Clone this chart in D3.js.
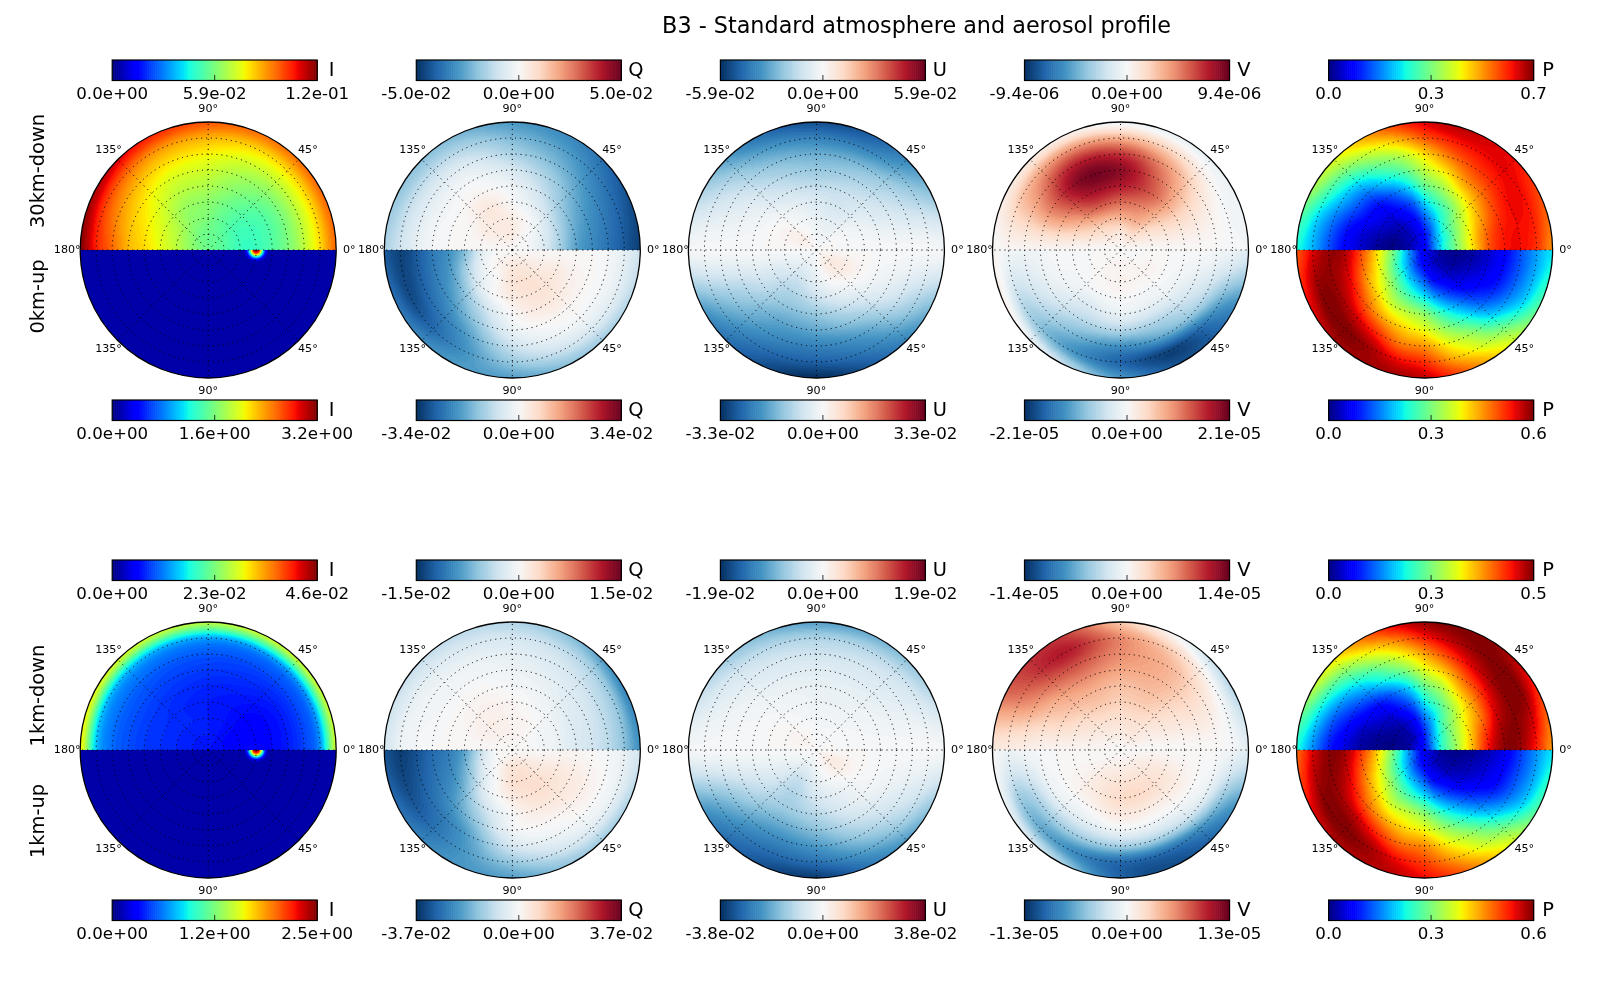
<!DOCTYPE html>
<html>
<head>
<meta charset="utf-8">
<title>B3 - Standard atmosphere and aerosol profile</title>
<script src="https://cdn.jsdelivr.net/npm/d3@7"></script>
<style>
html,body{margin:0;padding:0;background:#fff;}
#wrap{position:relative;width:1600px;height:1000px;overflow:hidden;}
canvas,svg{position:absolute;left:0;top:0;}
text{font-family:"DejaVu Sans",sans-serif;fill:#000;}
</style>
</head>
<body>
<div id="wrap"><canvas id="cv" width="1600" height="1000"></canvas><svg id="sv" width="1600" height="1000"></svg></div>
<script>
// Sampling of every half disc: one row per azimuth, one column per zenith angle.
// I, Q, U, V rows are 30 degrees apart from 0 to 180; P rows are 15 degrees apart.
const zeniths  = [0, 10, 20, 30, 40, 50, 60, 70, 80];

const I_30down = [
 [48,45,42,42,45,50,58,68,80],
 [48,46,43,43,45,50,58,68,80],
 [48,47,46,47,50,54,60,68,79],
 [48,48,50,52,56,60,65,72,82],
 [48,49,52,54,58,62,68,76,88],
 [48,51,56,60,64,68,74,83,96],
 [48,52,58,63,68,72,80,88,100]];
const I_0up = [
 [2,2,2,2,2,2,2,2,3],
 [2,2,2,2,2,2,2,2,3],
 [2,2,2,2,2,2,2,2,3],
 [2,2,2,2,2,2,2,2,3],
 [2,2,2,2,2,2,2,2,3],
 [2,2,2,2,2,2,2,2,3],
 [2,2,2,2,2,2,2,2,3]];
const I_1down = [
 [14,13,12,12,13,15,19,27,60],
 [14,13,12.5,12,13,15,19,27,60],
 [14,14,14,14,15,17,20,28,60],
 [14,15,15,15,16,18,21,29,58],
 [14,15,16,16,17,19,22,30,60],
 [14,15,16,17,18,20,23,31,63],
 [14,15,16,17,18,20,23,32,66]];
const I_1up = [
 [2,2,2,2,2,2,2,2,3],
 [2,2,2,2,2,2,2,2,3],
 [2,2,2,2,2,2,2,2,3],
 [2,2,2,2,2,2,2,2,3],
 [2,2,2,2,2,2,2,2,3],
 [2,2,2,2,2,2,2,2,3],
 [2,2,2,2,2,2,2,2,3]];

const Q_30down = [
 [0,-2,-15,-35,-55,-65,-75,-85,-95],
 [0,-1,-10,-26,-44,-56,-66,-76,-85],
 [0,2,0,-12,-24,-35,-47,-57,-66],
 [0,8,6,0,-6,-17,-32,-45,-58],
 [0,8,10,10,3,-3,-13,-28,-44],
 [0,4,6,2,0,-4,-12,-25,-40],
 [0,0,0,0,0,-2,-9,-20,-32]];
const Q_0up = [
 [0,0,0,0,0,0,-2,-10,-20],
 [0,5,8,10,6,2,-3,-12,-30],
 [0,10,14,14,10,2,-5,-20,-40],
 [0,10,13,8,0,-8,-22,-38,-55],
 [0,6,0,-5,-25,-42,-58,-65,-58],
 [0,2,-5,-25,-50,-65,-78,-88,-72],
 [0,0,-15,-45,-62,-72,-85,-93,-85]];
const Q_1down = [
 [0,0,-3,-8,-15,-20,-27,-42,-62],
 [0,0,-3,-6,-12,-16,-24,-37,-65],
 [0,2,2,-2,-6,-10,-16,-26,-44],
 [0,4,3,2,-2,-6,-10,-18,-30],
 [0,4,6,5,2,-2,-6,-14,-25],
 [0,3,5,3,1,-2,-4,-10,-22],
 [0,0,0,0,0,0,-2,-6,-18]];
const Q_1up = [
 [0,0,0,2,2,0,-2,-8,-18],
 [0,6,10,12,10,6,0,-10,-32],
 [0,12,16,16,10,2,-5,-18,-38],
 [0,12,15,8,0,-5,-18,-38,-55],
 [0,6,0,-8,-25,-42,-58,-62,-60],
 [0,0,-12,-38,-58,-68,-78,-85,-75],
 [0,0,-25,-55,-70,-78,-88,-95,-88]];

const U_30down = [
 [0,0,0,0,0,0,0,0,-2],
 [0,0,-3,-6,-12,-18,-25,-35,-45],
 [0,-5,-10,-18,-22,-32,-45,-65,-80],
 [0,-3,-8,-15,-25,-38,-50,-68,-88],
 [0,3,-2,-8,-18,-28,-40,-55,-72],
 [0,6,4,0,-5,-10,-16,-24,-34],
 [0,0,0,0,0,0,0,0,-1]];
const U_0up = [
 [0,0,0,0,0,0,0,0,0],
 [0,8,8,2,-5,-12,-22,-35,-48],
 [0,6,3,-8,-22,-38,-55,-68,-80],
 [0,-3,-10,-22,-38,-52,-68,-82,-100],
 [0,-8,-20,-30,-40,-52,-62,-75,-85],
 [0,-5,-12,-18,-22,-30,-38,-48,-60],
 [0,0,0,0,0,0,0,0,-2]];
const U_1down = [
 [0,0,0,0,0,0,0,0,0],
 [0,0,-1,-3,-5,-8,-11,-18,-30],
 [0,-1,-3,-6,-8,-12,-18,-28,-48],
 [0,-1,-3,-6,-8,-12,-20,-32,-55],
 [0,2,-1,-3,-6,-10,-16,-26,-42],
 [0,4,2,0,-2,-4,-8,-14,-25],
 [0,0,0,0,0,0,0,-1,-1]];
const U_1up = [
 [0,0,0,0,0,0,0,0,-1],
 [0,8,6,0,-3,-8,-15,-25,-42],
 [0,4,0,-8,-12,-22,-35,-52,-68],
 [0,-3,-10,-18,-28,-42,-58,-75,-95],
 [0,-8,-22,-30,-35,-48,-62,-75,-85],
 [0,-4,-10,-14,-20,-28,-40,-52,-62],
 [0,0,0,0,0,0,0,0,-2]];

const V_30down = [
 [0,0,0,0,0,0,0,-1,-2],
 [0,8,14,20,22,18,10,0,-6],
 [0,15,35,48,60,55,42,18,-8],
 [0,10,35,58,80,90,72,35,-4],
 [0,12,30,60,82,93,78,45,6],
 [0,6,18,32,45,50,42,30,8],
 [0,0,0,1,2,2,2,2,0]];
const V_0up = [
 [0,0,0,0,0,0,-2,-5,-12],
 [0,0,3,0,-5,-15,-28,-55,-70],
 [0,3,3,-2,-10,-30,-50,-92,-88],
 [0,3,4,0,-8,-30,-62,-80,-60],
 [0,3,2,-2,-15,-28,-45,-55,-20],
 [0,1,0,-2,-5,-12,-22,-28,5],
 [0,0,0,0,0,-3,-5,-4,3]];
const V_1down = [
 [0,0,0,0,0,0,0,-2,-10],
 [0,6,8,12,14,16,12,-2,-28],
 [0,10,16,24,30,34,34,22,-5],
 [0,8,16,24,30,40,47,48,28],
 [0,8,15,26,35,48,65,80,72],
 [0,4,10,16,25,32,45,56,62],
 [0,2,2,3,3,4,6,8,10]];
const V_1up = [
 [0,0,2,1,0,0,0,-5,-12],
 [0,5,10,12,8,0,-12,-45,-65],
 [0,6,14,18,8,-5,-30,-75,-88],
 [0,6,14,18,10,-5,-35,-78,-82],
 [0,5,10,10,2,-12,-35,-60,-30],
 [0,2,3,3,0,-8,-30,-40,-8],
 [0,0,0,0,0,-1,-3,-6,0]];

const P_30down = [
 [12,33,50,67,82,89,90,86,76],
 [12,34,50,66,80,88,90,88,80],
 [12,31,47,62,74,84,90,90,85],
 [12,29,44,56,68,79,87,91,90],
 [12,24,38,48,62,75,84,90,93],
 [12,18,30,42,54,66,78,88,95],
 [12,14,22,34,47,58,68,82,92],
 [12,10,14,21,33,45,56,70,83],
 [12,8,9,14,22,35,47,60,72],
 [12,6,5,9,14,24,36,50,62],
 [12,5,3,7,12,20,30,42,55],
 [12,4,1,4,8,14,23,33,44],
 [12,4,1,2,7,12,20,30,38]];
const P_0up = [
 [10,2,1,3,7,12,20,28,35],
 [10,3,2,4,8,13,21,30,40],
 [10,4,3,7,11,16,25,35,47],
 [10,5,6,10,17,25,36,50,60],
 [10,7,10,17,28,40,53,62,72],
 [10,9,14,26,40,52,63,73,84],
 [10,12,22,36,52,63,75,86,94],
 [10,15,28,42,57,68,78,90,97],
 [10,18,33,47,60,73,87,97,97],
 [10,22,38,54,67,80,93,100,97],
 [10,25,42,60,73,88,97,100,92],
 [10,27,47,65,80,93,98,97,87],
 [10,28,50,68,84,96,98,92,82]];
const P_1down = [
 [14,38,55,72,90,99,98,88,75],
 [14,38,54,70,86,97,99,93,80],
 [14,36,52,66,78,92,99,99,88],
 [14,33,48,60,72,86,97,100,95],
 [14,28,42,52,66,80,92,99,100],
 [14,22,32,44,56,70,84,95,100],
 [14,16,24,36,48,62,74,88,98],
 [14,11,14,22,33,48,62,76,90],
 [14,8,8,14,22,37,50,65,78],
 [14,5,4,8,14,26,38,52,66],
 [14,4,2,5,10,18,28,42,58],
 [14,3,1,2,5,12,20,33,46],
 [14,3,1,1,3,8,15,26,38]];
const P_1up = [
 [10,2,1,2,5,10,18,27,35],
 [10,3,2,4,7,12,20,29,40],
 [10,4,3,6,10,15,24,34,46],
 [10,5,6,10,17,26,37,50,60],
 [10,7,10,17,28,40,53,62,72],
 [10,9,14,26,40,53,64,74,83],
 [10,12,22,36,52,64,76,84,90],
 [10,15,28,42,58,68,79,90,95],
 [10,18,33,47,60,73,87,97,96],
 [10,22,38,54,67,80,94,100,96],
 [10,25,42,60,74,88,97,100,92],
 [10,27,47,66,81,94,99,96,85],
 [10,28,50,70,86,97,99,92,80]];

// Colour bar tick labels.
const ticksI_30down = ["0.0e+00","5.9e-02","1.2e-01"];
const ticksQ_30down = ["-5.0e-02","0.0e+00","5.0e-02"];
const ticksU_30down = ["-5.9e-02","0.0e+00","5.9e-02"];
const ticksV_30down = ["-9.4e-06","0.0e+00","9.4e-06"];
const ticksP_30down = ["0.0","0.3","0.7"];
const ticksI_0up = ["0.0e+00","1.6e+00","3.2e+00"];
const ticksQ_0up = ["-3.4e-02","0.0e+00","3.4e-02"];
const ticksU_0up = ["-3.3e-02","0.0e+00","3.3e-02"];
const ticksV_0up = ["-2.1e-05","0.0e+00","2.1e-05"];
const ticksP_0up = ["0.0","0.3","0.6"];
const ticksI_1down = ["0.0e+00","2.3e-02","4.6e-02"];
const ticksQ_1down = ["-1.5e-02","0.0e+00","1.5e-02"];
const ticksU_1down = ["-1.9e-02","0.0e+00","1.9e-02"];
const ticksV_1down = ["-1.4e-05","0.0e+00","1.4e-05"];
const ticksP_1down = ["0.0","0.3","0.5"];
const ticksI_1up = ["0.0e+00","1.2e+00","2.5e+00"];
const ticksQ_1up = ["-3.7e-02","0.0e+00","3.7e-02"];
const ticksU_1up = ["-3.8e-02","0.0e+00","3.8e-02"];
const ticksV_1up = ["-1.3e-05","0.0e+00","1.3e-05"];
const ticksP_1up = ["0.0","0.3","0.6"];

// Bright spot in the upward radiance: distance from the sun (degrees) and value there.
const sunZenith = 30;
const sunDistance = [0, 1, 2, 3, 4, 5, 6, 7, 8];
const sunValue = [100, 95, 85, 65, 42, 25, 12, 6, 3];

const stokes = ["I","Q","U","V","P"];
const title = "B3 - Standard atmosphere and aerosol profile";
const gridRings = [10,20,30,40,50,60,70];
const gridSpokes = [0,45,90,135,180,225,270,315];
const spokeLabels = [
 {a:0,t:"0°"},{a:45,t:"45°"},{a:90,t:"90°"},{a:135,t:"135°"},{a:180,t:"180°"},
 {a:225,t:"135°"},{a:270,t:"90°"},{a:315,t:"45°"}];

const blocks = [
 {cy:250, barTop:60,  barBottom:400, upper:"30km-down", lower:"0km-up", upperY:171, lowerY:296.5,
  up:[I_30down,Q_30down,U_30down,V_30down,P_30down],
  low:[I_0up,Q_0up,U_0up,V_0up,P_0up],
  upTicks:[ticksI_30down,ticksQ_30down,ticksU_30down,ticksV_30down,ticksP_30down],
  lowTicks:[ticksI_0up,ticksQ_0up,ticksU_0up,ticksV_0up,ticksP_0up]},
 {cy:750, barTop:560, barBottom:900, upper:"1km-down", lower:"1km-up", upperY:695.5, lowerY:821,
  up:[I_1down,Q_1down,U_1down,V_1down,P_1down],
  low:[I_1up,Q_1up,U_1up,V_1up,P_1up],
  upTicks:[ticksI_1down,ticksQ_1down,ticksU_1down,ticksV_1down,ticksP_1down],
  lowTicks:[ticksI_1up,ticksQ_1up,ticksU_1up,ticksV_1up,ticksP_1up]}
];

// Colour maps
const jetR = d3.scaleLinear([0,.35,.66,.89,1],[0,0,1,1,.5]);
const jetG = d3.scaleLinear([0,.125,.375,.64,.91,1],[0,0,1,1,0,0]);
const jetB = d3.scaleLinear([0,.11,.34,.65,1],[.5,1,1,0,0]);
const jet = t => d3.rgb(255*jetR(t),255*jetG(t),255*jetB(t));
const rdbuStops = ["#053061","#2166ac","#4393c3","#92c5de","#d1e5f0","#f7f7f7","#fddbc7","#f4a582","#d6604d","#b2182b","#67001f"];
const rdbu = d3.scaleLinear(d3.range(11).map(i=>i/10), rdbuStops).interpolate(d3.interpolateRgb);
const toJet = d3.scaleLinear([0,100],[0,1]).clamp(true);
const toDiv = d3.scaleLinear([-100,100],[0,1]).clamp(true);
const LEVELS = 100;
const jetLut = d3.range(LEVELS).map(i=>d3.rgb(jet((i+.5)/LEVELS)));
const divLut = d3.range(LEVELS).map(i=>d3.rgb(rdbu((i+.5)/LEVELS)));

// Layout scales
const colX = d3.scaleLinear([0,4],[208.2,1424.6]);
const R = 128;
const rPx = d3.scaleLinear([0,80],[0,R]);
const zenIndex = d3.scaleLinear([0,80],[0,zeniths.length-1]);
const sunProfile = d3.scaleLinear(sunDistance,sunValue).clamp(true);

function catmull(a,b,c,d,t){
  return 0.5*((2*b)+(-a+c)*t+(2*a-5*b+4*c-d)*t*t+(-a+3*b-3*c+d)*t*t*t);
}
function sample(G,az,zen){
  const fi=az/180*(G.length-1), fj=zenIndex(zen);
  const i=Math.min(Math.floor(fi),G.length-2), j=Math.min(Math.floor(fj),G[0].length-2);
  const ti=fi-i, tj=fj-j;
  const row=k=>{
    const r=G[Math.max(0,Math.min(G.length-1,k))];
    const g=m=>r[Math.max(0,Math.min(r.length-1,m))];
    return catmull(g(j-1),g(j),g(j+1),g(j+2),tj);
  };
  return catmull(row(i-1),row(i),row(i+1),row(i+2),ti);
}

// Heat maps
const ctx = document.getElementById("cv").getContext("2d");
const img = ctx.createImageData(1600,1000);
const px = img.data;
blocks.forEach(b=>{
  stokes.forEach((s,c)=>{
    const cx=colX(c), cy=b.cy;
    const isJet=(s==="I"||s==="P");
    const lut=isJet?jetLut:divLut, norm=isJet?toJet:toDiv;
    const x0=Math.floor(cx-R-1), x1=Math.ceil(cx+R+1);
    for(let y=cy-R-1;y<=cy+R+1;y++){
      for(let x=x0;x<=x1;x++){
        const dx=x+.5-cx, dy=y+.5-cy, d=Math.hypot(dx,dy);
        if(d>R) continue;
        const top=dy<0;
        const zen=rPx.invert(d);
        const az=Math.atan2(Math.abs(dy),dx)*180/Math.PI;
        let v=sample(top?b.up[c]:b.low[c],az,zen);
        if(!top&&s==="I"){
          const sd=rPx(sunZenith);
          const dist=rPx.invert(Math.hypot(dx-sd,dy));
          v=Math.max(v,sunProfile(dist));
        }
        const col=lut[Math.min(LEVELS-1,Math.floor(norm(v)*LEVELS))];
        const o=(y*1600+x)*4;
        px[o]=col.r;px[o+1]=col.g;px[o+2]=col.b;px[o+3]=255;
      }
    }
  });
});
ctx.putImageData(img,0,0);

// Vector layer
const svg=d3.select("#sv");
svg.append("text").attr("x",916.5).attr("y",24.5).attr("text-anchor","middle")
  .attr("dominant-baseline","central").style("font-size","22.3px").text(title);

const polar=(cx,cy,a,r)=>[cx+r*Math.cos(a*Math.PI/180),cy-r*Math.sin(a*Math.PI/180)];

function colourBar(c,y,name,labels){
  const cx=colX(c), x0=cx-96, w=205, h=20.5;
  const isJet=(name==="I"||name==="P");
  const bandX=d3.scaleBand(d3.range(LEVELS),[x0,x0+w]);
  const lut=isJet?jetLut:divLut;
  const g=svg.append("g");
  g.selectAll("rect.b").data(d3.range(LEVELS)).join("rect").attr("class","b")
    .attr("x",d=>bandX(d)).attr("y",y).attr("width",bandX.bandwidth()+.6).attr("height",h)
    .attr("fill",d=>lut[d].formatHex());
  g.append("rect").attr("x",x0).attr("y",y).attr("width",w).attr("height",h)
    .attr("fill","none").attr("stroke","#000").attr("stroke-width",1.2);
  const tickX=d3.scaleLinear([0,2],[x0,x0+w]);
  g.append("line").attr("x1",tickX(1)).attr("x2",tickX(1)).attr("y1",y+h-5.5).attr("y2",y+h)
    .attr("stroke","#000").attr("stroke-width",.8);
  labels.forEach((t,i)=>{
    g.append("text").attr("x",tickX(i)).attr("y",y+33.7).attr("text-anchor","middle")
      .attr("dominant-baseline","central").style("font-size","16.67px").text(t);
  });
  g.append("text").attr("x",x0+w+14.5).attr("y",y+9.5).attr("text-anchor","middle")
    .attr("dominant-baseline","central").style("font-size","19.4px").text(name);
}

blocks.forEach(b=>{
  stokes.forEach((s,c)=>{
    const cx=colX(c), cy=b.cy;
    const g=svg.append("g");
    const grid={fill:"none",stroke:"#000","stroke-width":1,"stroke-dasharray":"1.1 3.9"};
    const rings=g.selectAll("circle.r").data(gridRings).join("circle").attr("class","r")
      .attr("cx",cx).attr("cy",cy).attr("r",d=>rPx(d));
    const spokes=g.selectAll("line.s").data(gridSpokes).join("line").attr("class","s")
      .attr("x1",cx).attr("y1",cy)
      .attr("x2",d=>polar(cx,cy,d,R)[0]).attr("y2",d=>polar(cx,cy,d,R)[1]);
    [rings,spokes].forEach(sel=>Object.entries(grid).forEach(([k,v])=>sel.attr(k,v)));
    g.append("circle").attr("cx",cx).attr("cy",cy).attr("r",R)
      .attr("fill","none").attr("stroke","#000").attr("stroke-width",1.3);
    g.selectAll("text").data(spokeLabels).join("text")
      .attr("x",d=>polar(cx,cy,d.a,141)[0]).attr("y",d=>polar(cx,cy,d.a,141)[1]-1)
      .attr("text-anchor","middle").attr("dominant-baseline","central")
      .style("font-size","11.1px").text(d=>d.t);
    colourBar(c,b.barTop,s,b.upTicks[c]);
    colourBar(c,b.barBottom,s,b.lowTicks[c]);
  });
  [[b.upper,b.upperY],[b.lower,b.lowerY]].forEach(([t,y])=>{
    svg.append("text").attr("transform",`translate(37,${y}) rotate(-90)`)
      .attr("text-anchor","middle").attr("dominant-baseline","central")
      .style("font-size","19.4px").text(t);
  });
});
</script>
</body>
</html>
